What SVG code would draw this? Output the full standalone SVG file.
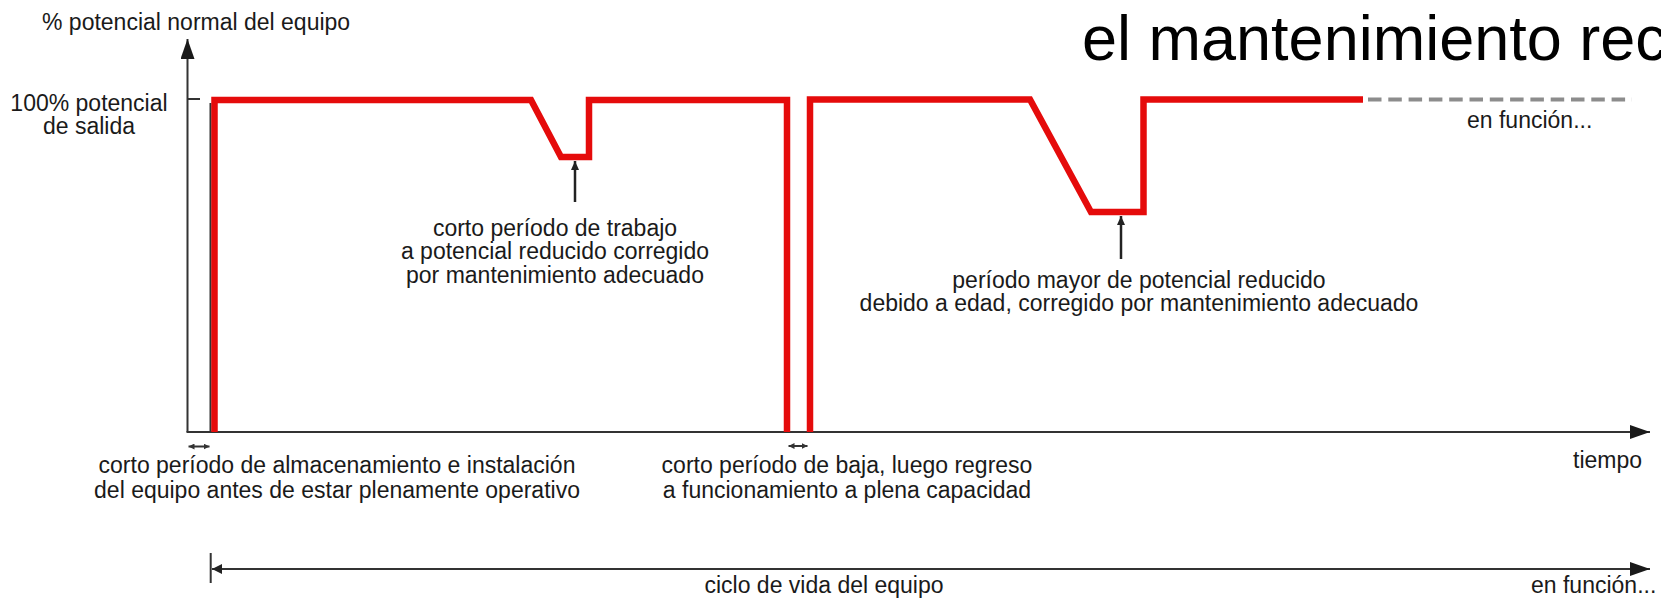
<svg xmlns="http://www.w3.org/2000/svg" width="1661" height="600" viewBox="0 0 1661 600">
<style>
  .t { font-family: "Liberation Sans", Arial, Helvetica, sans-serif; font-size: 23px; fill: #1a1a1a; }
  .mid { text-anchor: middle; }
  .title { font-family: "Liberation Sans", Arial, Helvetica, sans-serif; font-size: 63px; fill: #000; }
  .axis { stroke: #333; stroke-width: 2; fill: none; }
  .red { stroke: #e50b0b; stroke-width: 6.5; fill: none; stroke-linejoin: miter; stroke-linecap: butt; }
  .dash { stroke: #8c8c8c; stroke-width: 4; fill: none; stroke-dasharray: 13.5 6.8; }
  .ann { stroke: #222; stroke-width: 2.5; fill: none; }
  .tiny { stroke: #333; stroke-width: 2; fill: none; }
</style>
<defs>
  <marker id="arrBig" markerUnits="userSpaceOnUse" markerWidth="20" markerHeight="14" refX="20" refY="7" orient="auto">
    <path d="M0,0 L20,7 L0,14 Z" fill="#1a1a1a"/>
  </marker>
  <marker id="arrAnn" markerUnits="userSpaceOnUse" markerWidth="9" markerHeight="8" refX="9" refY="4" orient="auto">
    <path d="M0,0 L9,4 L0,8 Z" fill="#222"/>
  </marker>
  <marker id="arrTiny" markerUnits="userSpaceOnUse" markerWidth="6" markerHeight="6" refX="6" refY="3" orient="auto-start-reverse">
    <path d="M0,0 L6,3 L0,6 Z" fill="#333"/>
  </marker>
  <marker id="arrLeft" markerUnits="userSpaceOnUse" markerWidth="10" markerHeight="10" refX="10" refY="5" orient="auto-start-reverse">
    <path d="M0,0 L10,5 L0,10 Z" fill="#222"/>
  </marker>
</defs>
<rect width="1661" height="600" fill="#fff"/>

<g id="title">
  <text class="title" x="1082" y="60">el mantenimiento rec</text>
</g>

<g id="connectors">
  <!-- axes -->
  <line class="axis" x1="187.5" y1="432" x2="187.5" y2="39" marker-end="url(#arrBig)"/>
  <line class="axis" x1="186.5" y1="432" x2="1650" y2="432" marker-end="url(#arrBig)"/>
  <line class="axis" x1="188" y1="99" x2="200" y2="99" stroke-width="2.5"/>
  <!-- thin black line at start of service -->
  <line class="axis" x1="210.5" y1="103" x2="210.5" y2="432" stroke-width="1.6"/>
  <!-- potential curve -->
  <path class="red" d="M214.5,432 V100 H531 L561,157 H589 V100 H787 V432"/>
  <path class="red" d="M810,432 V99.5 H1030 L1091,212 H1143.5 V99.5 H1363"/>
  <line class="dash" x1="1368" y1="99.5" x2="1632" y2="99.5"/>
  <!-- annotation arrows -->
  <line class="ann" x1="575" y1="202" x2="575" y2="161" marker-end="url(#arrAnn)"/>
  <line class="ann" x1="1121" y1="259" x2="1121" y2="216" marker-end="url(#arrAnn)"/>
  <!-- tiny double arrows -->
  <line class="tiny" x1="188.5" y1="446.5" x2="209.5" y2="446.5" marker-start="url(#arrTiny)" marker-end="url(#arrTiny)"/>
  <line class="tiny" x1="788.5" y1="446" x2="807.5" y2="446" marker-start="url(#arrTiny)" marker-end="url(#arrTiny)"/>
  <!-- life cycle -->
  <line class="axis" x1="210.7" y1="553" x2="210.7" y2="583"/>
  <line class="axis" x1="212" y1="569" x2="1650" y2="569" marker-start="url(#arrLeft)" marker-end="url(#arrBig)"/>
</g>

<g id="label-yaxis">
  <text class="t" x="42" y="30">% potencial normal del equipo</text>
</g>
<g id="label-100">
  <text class="t mid" x="89" y="111">100% potencial</text>
  <text class="t mid" x="89" y="134">de salida</text>
</g>
<g id="label-dip1">
  <text class="t mid" x="555" y="235.5">corto período de trabajo</text>
  <text class="t mid" x="555" y="259">a potencial reducido corregido</text>
  <text class="t mid" x="555" y="283">por mantenimiento adecuado</text>
</g>
<g id="label-dip2">
  <text class="t mid" x="1139" y="288">período mayor de potencial reducido</text>
  <text class="t mid" x="1139" y="311">debido a edad, corregido por mantenimiento adecuado</text>
</g>
<g id="label-funcion-top">
  <text class="t" x="1467" y="128">en función...</text>
</g>
<g id="label-storage">
  <text class="t mid" x="337" y="473">corto período de almacenamiento e instalación</text>
  <text class="t mid" x="337" y="498">del equipo antes de estar plenamente operativo</text>
</g>
<g id="label-downtime">
  <text class="t mid" x="847" y="473">corto período de baja, luego regreso</text>
  <text class="t mid" x="847" y="498">a funcionamiento a plena capacidad</text>
</g>
<g id="label-tiempo">
  <text class="t" x="1573" y="468">tiempo</text>
</g>
<g id="label-lifecycle">
  <text class="t mid" x="824" y="593">ciclo de vida del equipo</text>
  <text class="t" x="1531" y="593">en función...</text>
</g>
</svg>
